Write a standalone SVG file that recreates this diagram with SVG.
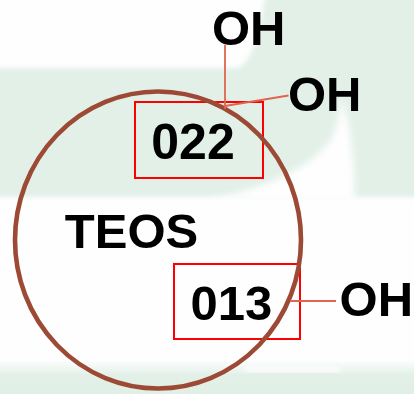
<svg xmlns="http://www.w3.org/2000/svg" width="414" height="394" viewBox="0 0 414 394">
  <defs>
    <filter id="soft" x="-10%" y="-10%" width="120%" height="120%">
      <feGaussianBlur stdDeviation="2.5"/>
    </filter>
    <filter id="softer" x="-30%" y="-30%" width="160%" height="160%">
      <feGaussianBlur stdDeviation="3.5"/>
    </filter>
    <linearGradient id="floor" x1="0" y1="0" x2="0" y2="1">
      <stop offset="0" stop-color="#e2f0e8" stop-opacity="0"/>
      <stop offset="0.35" stop-color="#e2f0e8"/>
      <stop offset="1" stop-color="#e0efe6"/>
    </linearGradient>
  </defs>
  <style>
    .lbl { font-family: "Liberation Sans", Arial, sans-serif; font-weight: bold; fill: #000; }
    .box { fill: none; stroke: #ff0000; stroke-width: 2; }
    .bond { fill: none; stroke: #df6550; stroke-width: 1.8; }
    .ring { fill: none; stroke: #9c4a35; stroke-width: 4.6; }
  </style>

  <!-- backdrop: pale green bands with soft white swooshes -->
  <g id="backdrop">
    <rect width="414" height="394" fill="#fefefe"/>
    <path d="M-10,68 L238,68 C252,62 260,35 266,-10 L424,-10 L424,197 L-10,197 Z" fill="#e2f0e8" filter="url(#soft)"/>
    <path d="M340,96 C350,120 354,150 355,200 L205,200 C262,190 312,168 332,138 C338,126 340,112 340,96 Z" fill="#fefefe" filter="url(#softer)"/>
    <rect x="-10" y="360" width="434" height="44" fill="url(#floor)"/>
    <rect x="245" y="367" width="95" height="5" fill="#fefefe" filter="url(#soft)"/>
  </g>

  <!-- substituent boxes -->
  <g id="site-022">
    <rect class="box" x="135" y="102" width="128" height="76"/>
  </g>
  <g id="site-013">
    <rect class="box" x="174" y="264" width="126" height="75"/>
  </g>

  <!-- TEOS particle outline -->
  <g id="teos">
    <ellipse class="ring" cx="158" cy="240" rx="143" ry="148.5"/>
  </g>

  <!-- bonds to hydroxyl groups -->
  <g id="connectors">
    <line class="bond" x1="225" y1="45" x2="225" y2="109"/>
    <line class="bond" x1="225" y1="106" x2="288.5" y2="95.5"/>
    <line class="bond" x1="290" y1="301" x2="336" y2="301"/>
  </g>

  <!-- labels -->
  <g id="labels">
    <text class="lbl" x="193" y="158.5" font-size="50" text-anchor="middle">022</text>
    <text class="lbl" x="131.5" y="248.3" font-size="49" text-anchor="middle">TEOS</text>
    <text class="lbl" x="231.3" y="320" font-size="49" text-anchor="middle">013</text>
  </g>
  <g id="oh-top">
    <text class="lbl" x="212" y="44.5" font-size="49">OH</text>
  </g>
  <g id="oh-mid">
    <text class="lbl" x="288" y="110.5" font-size="49">OH</text>
  </g>
  <g id="oh-low">
    <text class="lbl" x="339.6" y="316" font-size="49">OH</text>
  </g>
</svg>
